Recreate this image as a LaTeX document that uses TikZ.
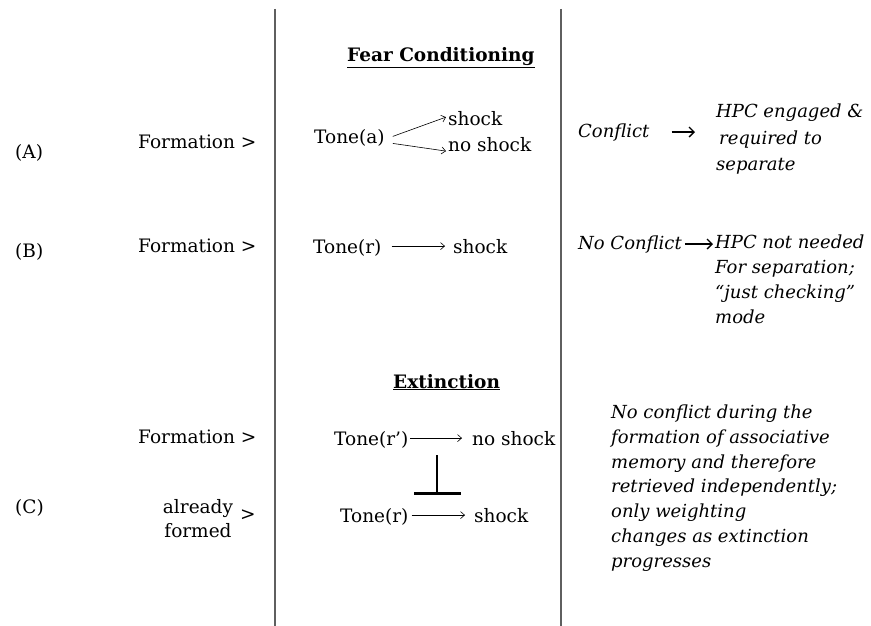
\documentclass[tikz,border=0pt]{standalone}
\usepackage{fontspec}
\setmainfont{DejaVu Serif}
\usetikzlibrary{arrows.meta,positioning}
\definecolor{ruleGray}{RGB}{95,95,95}
\tikzset{
  txt/.style={anchor=base west, inner sep=0pt, font=\fontsize{18.5}{25}\selectfont},
  itxt/.style={txt, font=\fontsize{18}{25}\selectfont\itshape},
  hdr/.style={anchor=base west, inner sep=0pt, font=\fontsize{18.5}{25}\selectfont\bfseries},
  note/.style={anchor=north west, inner sep=0pt, align=left, font=\fontsize{18}{25}\selectfont\itshape},
  thinarrow/.style={-{Straight Barb[length=4pt,width=7pt]}, line width=0.6pt},
  bigarrow/.style={-{Straight Barb[length=5pt,width=10pt]}, line width=1.3pt},
  inhibit/.style={-{Bar[width=47pt,line width=3.5pt]}, line width=1.8pt},
  divider/.style={draw=ruleGray, line width=2pt}
}
\begin{document}
\begin{tikzpicture}[x=1pt, y=-1pt]
\useasboundingbox (0,0) rectangle (871,626);
\coordinate (d1top) at (275,9);
\coordinate (d1bot) at (275,626);
\coordinate (d2top) at (561,9);
\coordinate (d2bot) at (561,626);
\draw[divider] (d1top) -- (d1bot);
\draw[divider] (d2top) -- (d2bot);

\node[hdr] (hdrFear) at (347,62) {\underline{Fear Conditioning}};
\node[hdr] (hdrExt) at (393,388) {\underline{Extinction}};

\node[txt] (labA) at (15,158) {(A)};
\node[txt] (labB) at (15,257) {(B)};
\node[txt] (labC) at (15,513) {(C)};

\node[txt] (formA) at (138,148) {Formation >};
\node[txt] (formB) at (138,252) {Formation >};
\node[txt] (formC) at (138,443) {Formation >};
\node[anchor=north, inner sep=0pt, align=center, font=\fontsize{18.5}{24}\selectfont] (readyC) at (198,499) {already\\formed};
\node[txt] (gtC) at (240,520) {>};

\node[txt] (toneA) at (314,143) {Tone(a)};
\node[txt] (shockA) at (448,125) {shock};
\node[txt] (noshockA) at (448,151) {no shock};
\draw[thinarrow] ([xshift=8pt,yshift=1pt]toneA.east) -- ([xshift=-2pt,yshift=1pt]shockA.west);
\draw[thinarrow] ([xshift=8pt,yshift=-6pt]toneA.east) -- ([xshift=-2pt,yshift=-7pt]noshockA.west);

\node[txt] (toneB) at (313,253) {Tone(r)};
\node[txt] (shockB) at (453,253) {shock};
\draw[thinarrow] ([xshift=10pt]toneB.east |- shockB.west) -- ([xshift=-8pt]shockB.west);

\node[txt] (toneRp) at (334,445) {Tone(r’)};
\node[txt] (noshockC) at (472,445) {no shock};
\draw[thinarrow] ([xshift=2pt]toneRp.east |- noshockC.west) -- ([xshift=-10pt]noshockC.west);
\coordinate (inhTop) at (437,455);
\coordinate (inhBot) at (437,495);
\draw[inhibit] (inhTop) -- (inhBot);
\node[txt] (toneR) at (340,522) {Tone(r)};
\node[txt] (shockC) at (474,522) {shock};
\draw[thinarrow] ([xshift=3pt]toneR.east |- shockC.west) -- ([xshift=-9pt]shockC.west);

\node[itxt] (conflA) at (578,137) {Conflict};
\node[note, font=\fontsize{18}{26.5}\selectfont\itshape] (hpcA) at (716,104) {HPC engaged \&\\\hspace{3pt}required to\\separate};
\draw[bigarrow] ([xshift=22pt]conflA.east) -- ([xshift=-21pt]conflA.east -| hpcA.west);

\node[itxt] (conflB) at (578,249) {No Conflict};
\node[note] (hpcB) at (715,235) {HPC not needed\\For separation;\\“just checking”\\mode};
\draw[bigarrow] ([xshift=3pt]conflB.east) -- ([xshift=-2pt]conflB.east -| hpcB.west);

\node[note, font=\fontsize{18}{24.7}\selectfont\itshape] (noteC) at (611,405) {No conflict during the\\formation of associative\\memory and therefore\\retrieved independently;\\only weighting\\changes as extinction\\progresses};
\end{tikzpicture}
\end{document}
